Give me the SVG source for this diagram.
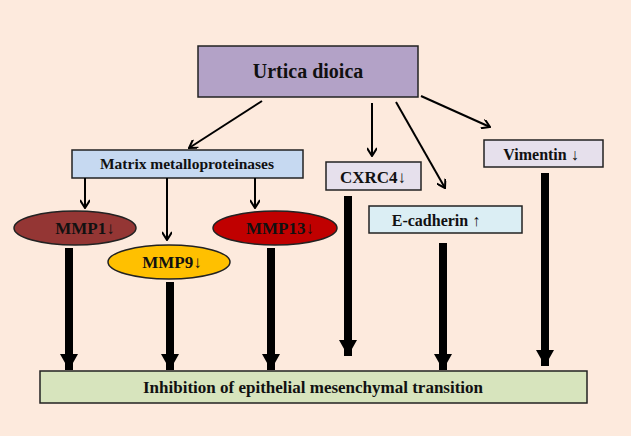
<svg xmlns="http://www.w3.org/2000/svg" width="631" height="436" viewBox="0 0 631 436">
<style>
.x{font-family:"Liberation Serif","DejaVu Serif",serif;font-weight:bold;fill:#111;text-anchor:middle}
.b{stroke:#222;stroke-width:1.5}
.t{stroke:#000;stroke-width:2;fill:none}
</style>
<defs>
<marker id="a" markerWidth="10" markerHeight="10" refX="9" refY="5" orient="auto" markerUnits="userSpaceOnUse"><path d="M1,0 L9,5 L1,10" fill="none" stroke="#000" stroke-width="2"/></marker>
<marker id="k" markerWidth="16" markerHeight="18" refX="16" refY="9" orient="auto" markerUnits="userSpaceOnUse"><path d="M0,0 L16,9 L0,18 Z" fill="#000"/></marker>
</defs>
<rect width="631" height="436" fill="#fdeadd"/>
<g id="urtica"><rect x="198" y="46" width="220" height="51" fill="#b3a2c7" class="b"/><text class="x" x="308" y="78" font-family="Liberation Serif, serif" font-size="20">Urtica dioica</text></g>
<g id="mmps"><rect x="72" y="150" width="231" height="28" fill="#c6d9f1" class="b"/><text class="x" x="187" y="169" font-family="Liberation Serif, serif" font-size="15.5">Matrix metalloproteinases</text></g>
<g id="mmp1"><ellipse cx="75" cy="228" rx="61" ry="17" fill="#943634" class="b"/><text class="x" x="85" y="234" font-family="Liberation Serif, serif" font-size="17">MMP1↓</text></g>
<g id="mmp9"><ellipse cx="169" cy="262" rx="61" ry="17" fill="#ffc000" class="b"/><text class="x" x="172" y="268" font-family="Liberation Serif, serif" font-size="17">MMP9↓</text></g>
<g id="mmp13"><ellipse cx="275" cy="228" rx="62" ry="17" fill="#c00000" class="b"/><text class="x" x="280" y="234" font-family="Liberation Serif, serif" font-size="17">MMP13↓</text></g>
<g id="cxrc4"><rect x="326" y="162" width="95" height="28" fill="#e6e0ec" class="b"/><text class="x" x="373" y="183" font-family="Liberation Serif, serif" font-size="17">CXRC4↓</text></g>
<g id="ecad"><rect x="369" y="206" width="153" height="27" fill="#dbeef4" class="b"/><text class="x" x="436" y="226" font-family="Liberation Serif, serif" font-size="16">E-cadherin  ↑</text></g>
<g id="vim"><rect x="484" y="140" width="119" height="27" fill="#e6e0ec" class="b"/><text class="x" x="541" y="160" font-family="Liberation Serif, serif" font-size="16">Vimentin  ↓</text></g>
<g id="emt"><rect x="40" y="371" width="547" height="32" fill="#d7e4bd" class="b"/><text class="x" x="313" y="393" font-family="Liberation Serif, serif" font-size="17">Inhibition of epithelial mesenchymal transition</text></g>
<g id="connectors">
<line x1="262" y1="101" x2="189" y2="148" class="t" marker-end="url(#a)"/>
<line x1="372" y1="103" x2="372" y2="156" class="t" marker-end="url(#a)"/>
<line x1="396" y1="102" x2="445" y2="188" class="t" marker-end="url(#a)"/>
<line x1="421" y1="96" x2="490" y2="127" class="t" marker-end="url(#a)"/>
<line x1="85" y1="178" x2="85" y2="208" class="t" marker-end="url(#a)"/>
<line x1="167" y1="178" x2="167" y2="240" class="t" marker-end="url(#a)"/>
<line x1="255" y1="178" x2="255" y2="208" class="t" marker-end="url(#a)"/>
<g stroke="#000" stroke-width="8">
<line x1="69" y1="248" x2="69" y2="370" marker-end="url(#k)"/>
<line x1="170" y1="282" x2="170" y2="370" marker-end="url(#k)"/>
<line x1="271" y1="248" x2="271" y2="370" marker-end="url(#k)"/>
<line x1="348" y1="196" x2="348" y2="356" marker-end="url(#k)"/>
<line x1="443" y1="243" x2="443" y2="370" marker-end="url(#k)"/>
<line x1="545" y1="173" x2="545" y2="366" marker-end="url(#k)"/>
</g>
</g>
</svg>
